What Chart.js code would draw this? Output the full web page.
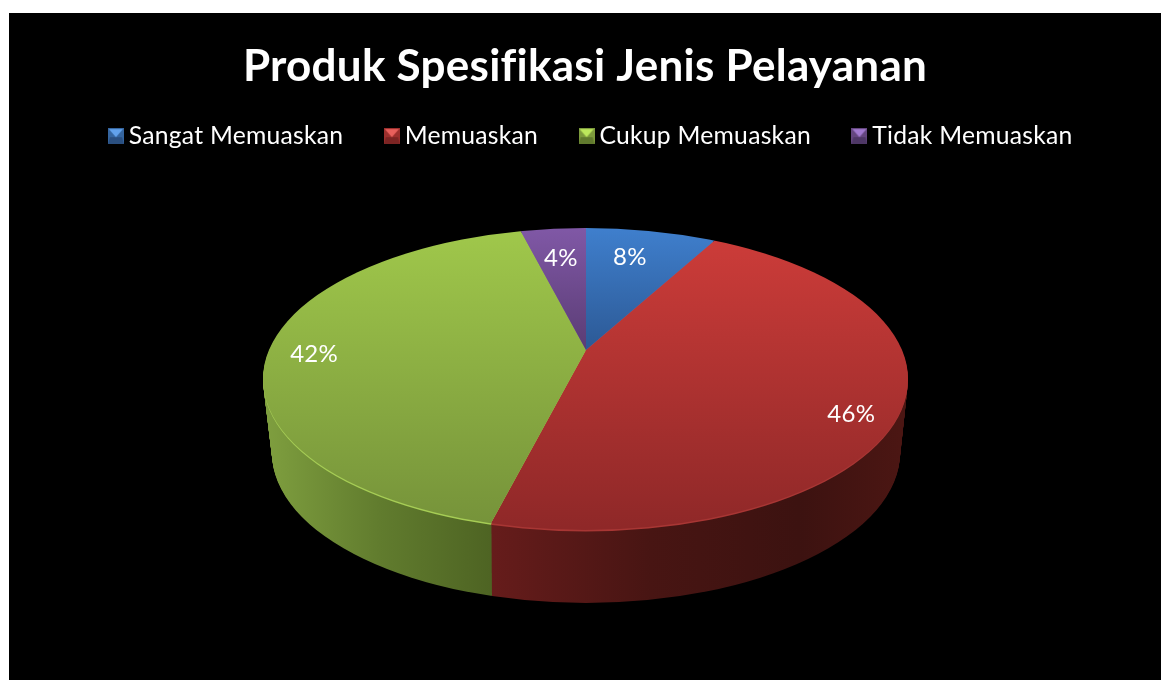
<!DOCTYPE html>
<html>
<head>
<meta charset="utf-8">
<title>Produk Spesifikasi Jenis Pelayanan</title>
<script src="https://cdn.jsdelivr.net/npm/chart.js@4.4.2/dist/chart.umd.js"></script>
<style>
  html, body { margin: 0; background: #fff; overflow: hidden; }
  #pie { position: absolute; left: 9px; top: 13px; background: #000; }
</style>
</head>
<body>
<canvas id="pie" width="1152" height="667"></canvas>
<script>
const CATEGORIES = ['Sangat Memuaskan', 'Memuaskan', 'Cukup Memuaskan', 'Tidak Memuaskan'];
const VALUES = [8, 46, 42, 4];
const TITLE = 'Produk Spesifikasi Jenis Pelayanan';

// top face, light to dark, plus how far down the canvas each slice spans
const TOP_LIGHT = ['#3f7fcd', '#cc3c39', '#a0c84b', '#8058a6'];
const TOP_DARK = ['#2c5995', '#8f2828', '#76933a', '#5a3c74'];
const TOP_FROM = [215, 225, 215, 215];
const TOP_TO = [337, 515, 510, 337];
const RIM = ['#3f7fcd', '#a83634', '#a6cd55', '#8058a6'];

// where the label sits around the slice, radius in unsquashed px
const LABEL_RADIUS = [204, 298, 272, 200];
const LABEL_TURN = [-2, 5.5, -1.3, 0];

// perspective of the disc, in canvas px
const APEX = { x: 577, y: 337 };
const SQUASH = 0.468;
const TOP_FACE = { x: 576.5, y: 366, rx: 322.5, ry: 151 };
const BOTTOM_FACE = { x: 577, y: 440, rx: 314, ry: 150 };
const REACH = 440; // slices get scaled to this and cut by the ellipse
const LEGEND_SHIFT = 9;

const lerp = (a, b, t) => a + (b - a) * t;

const wallFill = (ctx, el, i) => {
  const stops = i === 1
    ? [[483, '#661c1b'], [640, '#481513'], [790, '#3c1210'], [892, '#4b1613']]
    : [[255, '#7f9f3f'], [370, '#617c2e'], [481, '#4e6423'], [483, '#4e6423']];
  const s = REACH / el.outerRadius;
  const g = ctx.createLinearGradient(
    el.x + (stops[0][0] - APEX.x) / s, 0,
    el.x + (stops[3][0] - APEX.x) / s, 0
  );
  stops.forEach(stop => {
    g.addColorStop((stop[0] - stops[0][0]) / (stops[3][0] - stops[0][0]), stop[1]);
  });
  return g;
};

const faceAt = t => ({
  x: lerp(TOP_FACE.x, BOTTOM_FACE.x, t),
  y: lerp(TOP_FACE.y, BOTTOM_FACE.y, t),
  rx: lerp(TOP_FACE.rx, BOTTOM_FACE.rx, t),
  ry: lerp(TOP_FACE.ry, BOTTOM_FACE.ry, t)
});

const enterFace = (ctx, el, face, dy) => {
  const s = REACH / el.outerRadius;
  ctx.beginPath();
  ctx.ellipse(face.x, face.y, face.rx, face.ry, 0, 0, Math.PI * 2);
  ctx.clip();
  ctx.translate(APEX.x, APEX.y + dy);
  ctx.scale(s, s * SQUASH);
  ctx.translate(-el.x, -el.y);
};

const paintLayer = (ctx, arcs, face, dy, fills) => {
  ctx.save();
  enterFace(ctx, arcs[0], face, dy);
  arcs.forEach((el, i) => {
    const keep = el.options;
    el.options = Object.assign({}, keep, { backgroundColor: fills[i] });
    el.draw(ctx);
    el.options = keep;
  });
  ctx.restore();
};

const discPlugin = {
  id: 'disc',
  beforeUpdate(chart) {
    // spacing also stops Lato joining the "fi" in the title
    chart.ctx.letterSpacing = '0.25px';
  },
  afterLayout(chart) {
    chart.legend.left += LEGEND_SHIFT;
    chart.legend.right += LEGEND_SHIFT;
  },
  beforeDatasetsDraw(chart) {
    const ctx = chart.ctx;
    const arcs = chart.getDatasetMeta(0).data;
    const walls = arcs.map((el, i) => (i === 1 || i === 2) ? wallFill(ctx, el, i) : '#000');
    const depth = BOTTOM_FACE.y - TOP_FACE.y;
    for (let dy = depth; dy > 0; dy -= 1) {
      paintLayer(ctx, arcs, faceAt(dy / depth), dy, walls);
    }
    paintLayer(ctx, arcs, faceAt(1.5 / depth), 1.5, RIM);

    const s = REACH / arcs[0].outerRadius;
    arcs.forEach((el, i) => {
      const y0 = el.y + (TOP_FROM[i] - APEX.y) / (s * SQUASH);
      const y1 = el.y + (TOP_TO[i] - APEX.y) / (s * SQUASH);
      const g = ctx.createLinearGradient(0, y0, 0, y1);
      g.addColorStop(0, TOP_LIGHT[i]);
      g.addColorStop(1, TOP_DARK[i]);
      el.options = Object.assign({}, el.options, { backgroundColor: g });
    });
    ctx.save();
    enterFace(ctx, arcs[0], TOP_FACE, 0);
  },
  afterDatasetsDraw(chart) {
    const ctx = chart.ctx;
    ctx.restore();
    ctx.save();
    ctx.fillStyle = '#fff';
    ctx.font = '24px Lato';
    ctx.textAlign = 'center';
    ctx.textBaseline = 'middle';
    chart.getDatasetMeta(0).data.forEach((el, i) => {
      const mid = (el.startAngle + el.endAngle) / 2 + LABEL_TURN[i] * Math.PI / 180;
      const x = APEX.x + Math.cos(mid) * LABEL_RADIUS[i];
      const y = APEX.y + Math.sin(mid) * LABEL_RADIUS[i] * SQUASH;
      ctx.fillText(VALUES[i] + '%', x, y + 1);
    });
    ctx.restore();
  }
};

const bevelIcon = (light, mid, dark) => {
  const c = document.createElement('canvas');
  c.width = 16;
  c.height = 16;
  const g = c.getContext('2d');
  g.fillStyle = mid;
  g.fillRect(0, 0, 16, 16);
  g.fillStyle = dark;
  g.beginPath();
  g.moveTo(0, 16); g.lineTo(16, 16); g.lineTo(14, 9); g.lineTo(2, 9);
  g.closePath();
  g.fill();
  g.fillStyle = light;
  g.beginPath();
  g.moveTo(1, 1); g.lineTo(15, 1); g.lineTo(8, 9);
  g.closePath();
  g.fill();
  return c;
};

const ICONS = [
  bevelIcon('#62a2ec', '#35659f', '#2a4f80'),
  bevelIcon('#e8605c', '#9c2f2d', '#7c2423'),
  bevelIcon('#bde85c', '#7d9b3c', '#617a2e'),
  bevelIcon('#a27ad0', '#64467f', '#4e3766')
];

new Chart(document.getElementById('pie'), {
  type: 'pie',
  data: {
    labels: CATEGORIES,
    datasets: [{
      data: VALUES,
      backgroundColor: TOP_LIGHT,
      borderWidth: 0,
      clip: false
    }]
  },
  options: {
    responsive: false,
    animation: false,
    plugins: {
      tooltip: { enabled: false },
      title: {
        display: true,
        text: TITLE,
        color: '#fff',
        font: { family: 'Lato', size: 44, weight: 'bold' },
        padding: { top: 27, bottom: -17 }
      },
      legend: {
        display: true,
        position: 'top',
        labels: {
          color: '#fff',
          font: { family: 'Lato', size: 24.7 },
          usePointStyle: true,
          boxWidth: 1,
          padding: 48,
          generateLabels: chart => chart.data.labels.map((text, i) => ({
            text: text,
            fontColor: '#fff',
            fillStyle: TOP_LIGHT[i],
            strokeStyle: TOP_LIGHT[i],
            lineWidth: 0,
            pointStyle: ICONS[i],
            index: i
          }))
        }
      }
    }
  },
  plugins: [discPlugin]
});
</script>
</body>
</html>
